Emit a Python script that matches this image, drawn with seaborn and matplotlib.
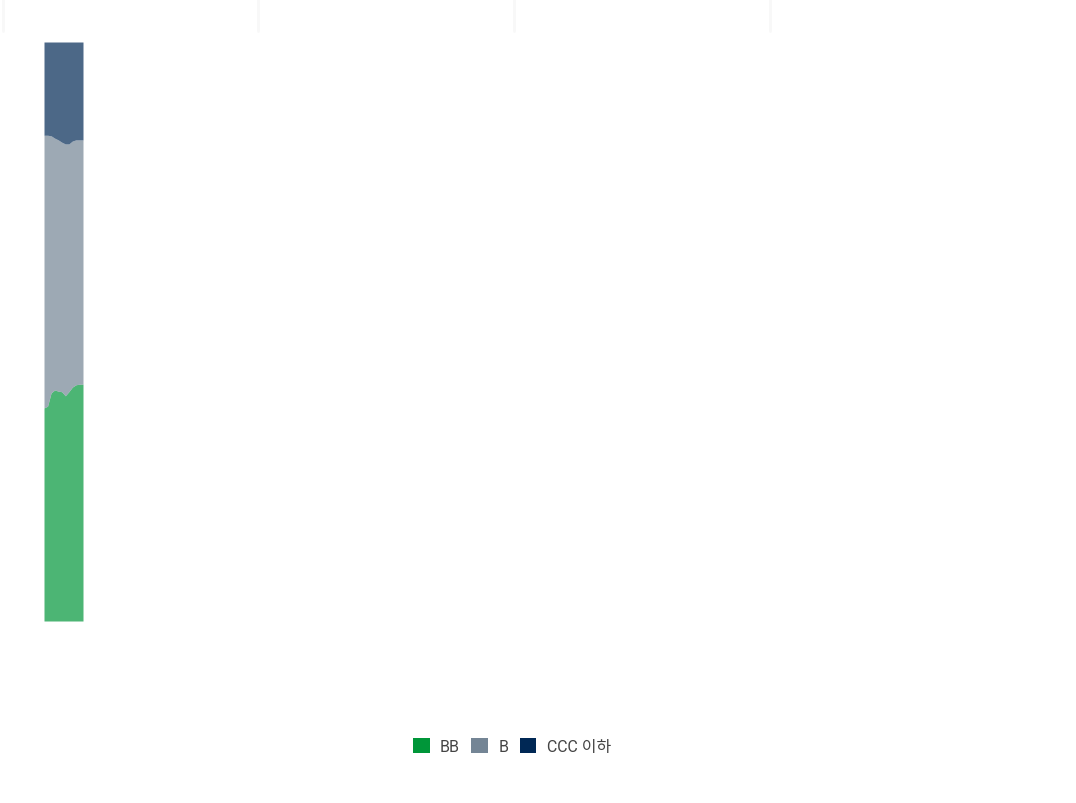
import matplotlib
matplotlib.use("Agg")
import matplotlib.pyplot as plt
from matplotlib.patches import Patch
from matplotlib.lines import Line2D
import seaborn as sns
import numpy as np

# ---- data (percent shares, 100% stacked) ----
periods = list(range(12))
bb = [36.8, 37.1, 39.4, 39.9, 39.7, 39.6, 38.9, 39.6, 40.4, 40.8, 40.9, 40.9]
ccc = [16.1, 16.1, 16.2, 16.6, 16.9, 17.3, 17.6, 17.6, 17.1, 16.9, 16.9, 16.9]
b = [round(100 - x - y, 1) for x, y in zip(bb, ccc)]
series_names = ["BB", "B", "CCC 이하"]
series_colors = ["#009639", "#748595", "#002855"]

sns.set_theme(style="white")
plt.rcParams['font.family'] = ['Roboto', 'Noto Sans CJK KR', 'DejaVu Sans']

W, H = 1076, 804
fig = plt.figure(figsize=(W / 100, H / 100), dpi=100)
ax = fig.add_axes([44 / W, (H - 622) / H, 39 / W, 579 / H])

ax.stackplot(periods, bb, b, ccc, colors=series_colors, alpha=0.7, linewidth=0)
ax.set_xlim(periods[0], periods[-1])
ax.set_ylim(0, 100)
ax.set_xticks([])
ax.set_yticks([])
sns.despine(ax=ax, left=True, bottom=True)

# faint top separators
for xp in [3, 258, 514, 770]:
    fig.add_artist(Line2D([xp / W, xp / W], [1, 1 - 32 / H], transform=fig.transFigure,
                          color="#f8f8f8", linewidth=2))

handles = [Patch(facecolor=c, edgecolor="none") for c in series_colors]
fig.legend(handles, series_names, loc="center", bbox_to_anchor=(512 / W, 1 - 747 / H),
           ncol=3, frameon=False, handlelength=1.05, handleheight=1.05, handletextpad=0.65,
           columnspacing=0.7, fontsize=11.5, labelcolor="#444444")

fig.savefig("out.png", dpi=100)
